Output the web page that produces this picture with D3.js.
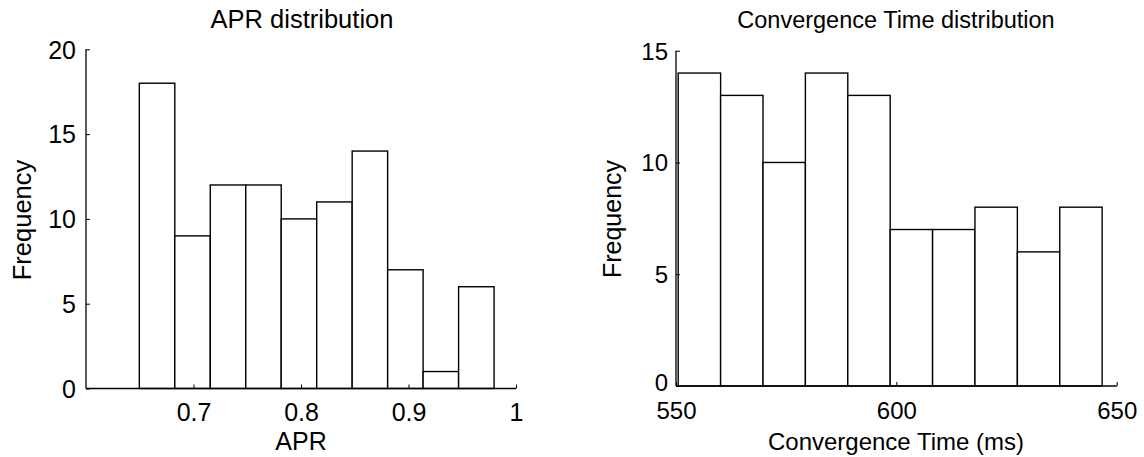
<!DOCTYPE html>
<html>
<head>
<meta charset="utf-8">
<script src="https://cdn.jsdelivr.net/npm/d3@7"></script>
<style>
  html, body { margin: 0; padding: 0; background: #fff; }
  svg { display: block; }
  text { font-family: "Liberation Sans", Arial, Helvetica, sans-serif; fill: #000; }
</style>
</head>
<body>
<svg id="chart" width="1144" height="457"></svg>
<script>
// ---- Data ----
const aprBinEdges = [0.6496, 0.6826, 0.7156, 0.7486, 0.7816, 0.8146, 0.8476, 0.8806, 0.9136, 0.9466, 0.9796];
const aprCounts   = [18, 9, 12, 12, 10, 11, 14, 7, 1, 6];
const aprXTicks   = [0.7, 0.8, 0.9, 1];
const aprYTicks   = [0, 5, 10, 15, 20];

const convBinEdges = [550.5, 560.12, 569.74, 579.36, 588.98, 598.6, 608.22, 617.84, 627.46, 637.08, 646.7];
const convCounts   = [14, 13, 10, 14, 13, 7, 7, 8, 6, 8];
const convXTicks   = [550, 600, 650];
const convYTicks   = [0, 5, 10, 15];

const svg = d3.select("#chart");

function histPanel(cfg) {
  const x = d3.scaleLinear().domain(cfg.xDomain).range(cfg.xRange);
  const y = d3.scaleLinear().domain(cfg.yDomain).range(cfg.yRange);
  const g = svg.append("g");

  const bins = cfg.counts.map((c, i) => ({x0: cfg.edges[i], x1: cfg.edges[i + 1], c}));
  g.selectAll("rect.bar").data(bins).enter().append("rect")
    .attr("class", "bar")
    .attr("x", d => x(d.x0))
    .attr("width", d => x(d.x1) - x(d.x0))
    .attr("y", d => y(d.c))
    .attr("height", d => y(0) - y(d.c))
    .attr("fill", "#fff")
    .attr("stroke", "#000")
    .attr("stroke-width", 1.4);

  // x axis (ticks inward)
  const xAxis = d3.axisTop(x).tickValues(cfg.xTicks).tickSize(4).tickFormat(cfg.xFmt);
  const gx = g.append("g").attr("transform", `translate(0,${y(0)})`).call(xAxis);
  gx.select(".domain").attr("d", `M${cfg.xRange[0]},0H${cfg.xRange[1]}`).attr("stroke", "#000").attr("stroke-width", 1.3);
  gx.selectAll(".tick line").attr("stroke", "#000");
  gx.selectAll(".tick text").attr("y", cfg.xLabelDy).attr("dy", null)
    .style("font-size", cfg.fontSize + "px").attr("font-family", null);

  // y axis (ticks inward)
  const yAxis = d3.axisRight(y).tickValues(cfg.yTicks).tickSize(4).tickFormat(d3.format("d"));
  const gy = g.append("g").attr("transform", `translate(${cfg.xRange[0]},0)`).call(yAxis);
  gy.select(".domain").attr("d", `M0,${cfg.yRange[0]}V${cfg.yRange[1]}`).attr("stroke", "#000").attr("stroke-width", 1.3);
  gy.selectAll(".tick line").attr("stroke", "#000");
  gy.selectAll(".tick text").attr("x", cfg.yLabelDx).attr("dy", "0.35em")
    .attr("text-anchor", "end")
    .style("font-size", cfg.fontSize + "px").attr("font-family", null);
  if (cfg.zeroDy) {
    gy.selectAll(".tick text").filter(d => d === 0).attr("dy", cfg.zeroDy);
  }

  svg.append("text").attr("x", cfg.titleX).attr("y", cfg.titleY)
    .attr("text-anchor", "middle").style("font-size", cfg.titleSize + "px").text(cfg.title);
  svg.append("text").attr("x", cfg.xLabelX).attr("y", cfg.xLabelY)
    .attr("text-anchor", "middle").style("font-size", cfg.fontSize + "px").text(cfg.xLabel);
  svg.append("text").attr("transform", `translate(${cfg.yLabelX},${cfg.yLabelY}) rotate(-90)`)
    .attr("text-anchor", "middle").style("font-size", cfg.yTitleSize + "px").text("Frequency");
}

histPanel({
  edges: aprBinEdges, counts: aprCounts,
  xDomain: [0.6, 1.0], xRange: [86, 516],
  yDomain: [0, 20], yRange: [388.5, 49.3],
  xTicks: aprXTicks, yTicks: aprYTicks,
  xFmt: d => (d === 1 ? "1" : d3.format(".1f")(d)),
  xLabelDy: 32, yLabelDx: -10,
  fontSize: 25, titleSize: 25.5, yTitleSize: 25.5,
  title: "APR distribution", titleX: 302, titleY: 28,
  xLabel: "APR", xLabelX: 301, xLabelY: 450,
  yLabelX: 31, yLabelY: 220
});

histPanel({
  edges: convBinEdges, counts: convCounts,
  xDomain: [550, 650], xRange: [676, 1116.7],
  yDomain: [0, 15], yRange: [386, 50.7],
  xTicks: convXTicks, yTicks: convYTicks,
  xFmt: d3.format("d"),
  xLabelDy: 33, yLabelDx: -8,
  fontSize: 24, titleSize: 23.5, yTitleSize: 25,
  title: "Convergence Time distribution", titleX: 896, titleY: 28,
  xLabel: "Convergence Time (ms)", xLabelX: 896, xLabelY: 450,
  yLabelX: 621, yLabelY: 219,
  zeroDy: "0.18em"
});
</script>
</body>
</html>
